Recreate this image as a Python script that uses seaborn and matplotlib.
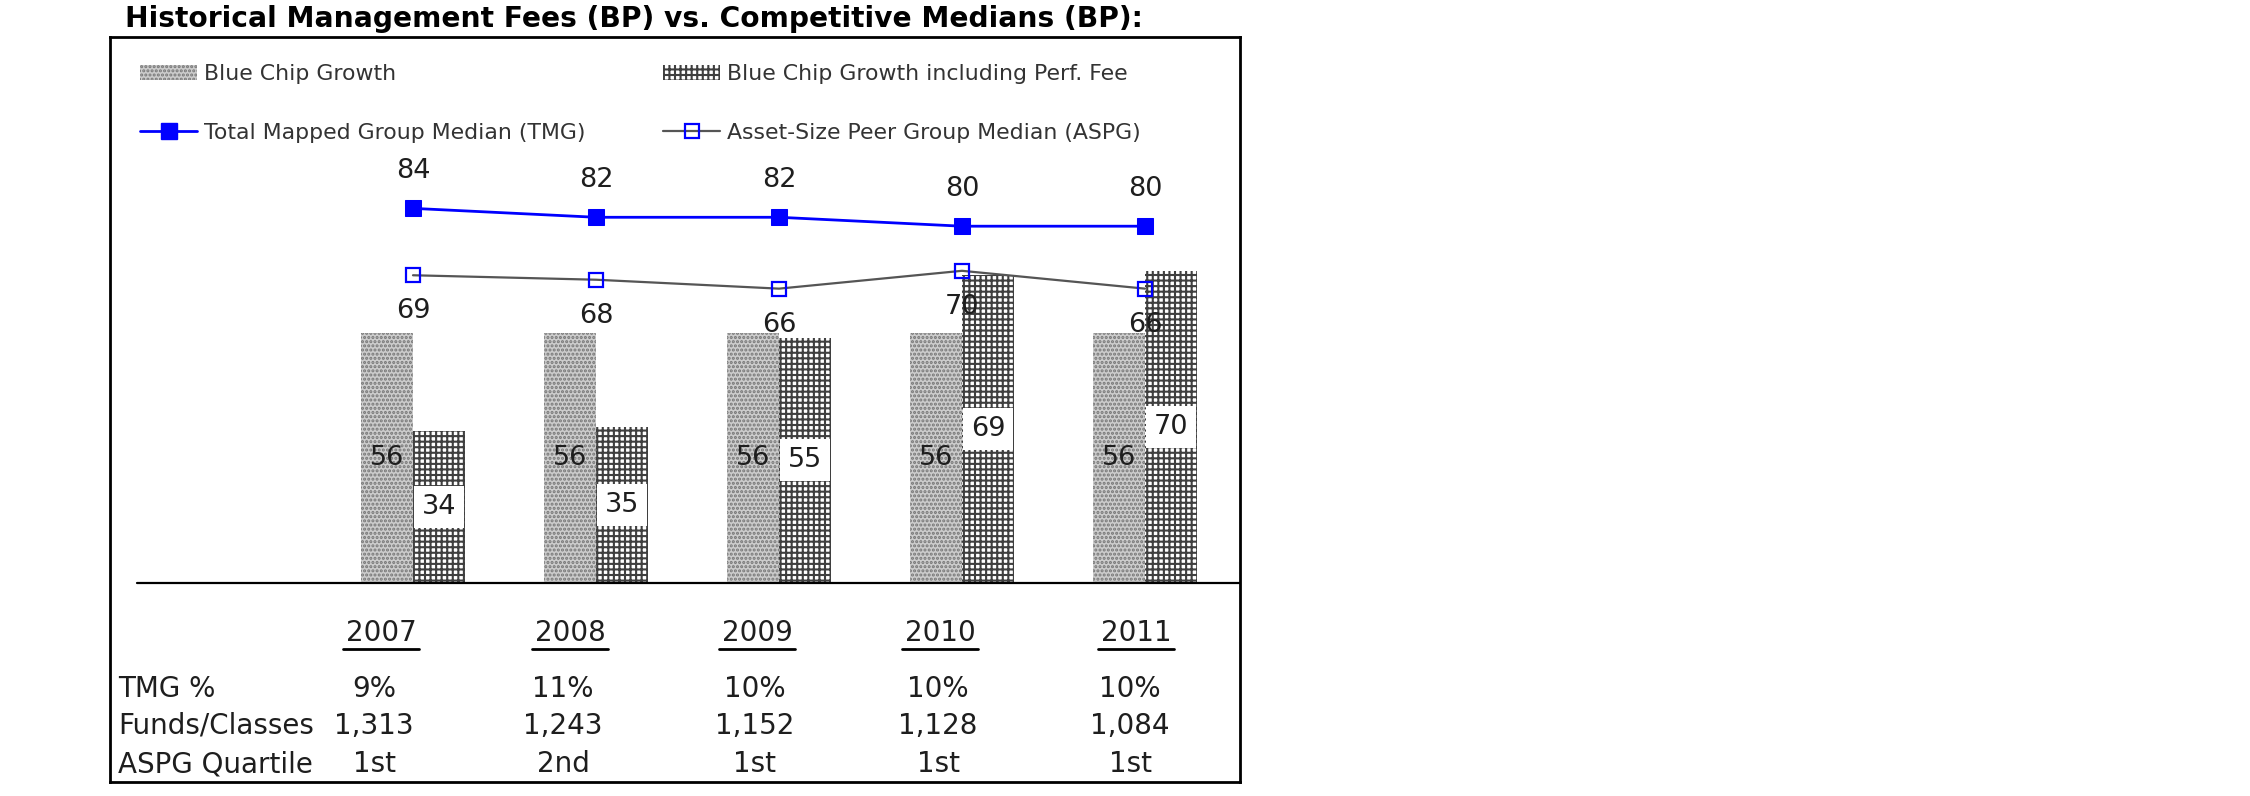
import matplotlib
matplotlib.use("Agg")
import matplotlib.pyplot as plt
import seaborn as sns
import pandas as pd
import numpy as np
from matplotlib.patches import Patch
from matplotlib.lines import Line2D

# ---------------- data ----------------
years = ["2007", "2008", "2009", "2010", "2011"]
bcg = [56, 56, 56, 56, 56]
bcg_perf = [34, 35, 55, 69, 70]
tmg = [84, 82, 82, 80, 80]
aspg = [69, 68, 66, 70, 66]
tmg_pct = ["9%", "11%", "10%", "10%", "10%"]
funds = ["1,313", "1,243", "1,152", "1,128", "1,084"]
quartile = ["1st", "2nd", "1st", "1st", "1st"]
bar_names = ["Blue Chip Growth", "Blue Chip Growth including Perf. Fee"]
line_names = ["Total Mapped Group Median (TMG)", "Asset-Size Peer Group Median (ASPG)"]
row_labels = ["TMG %", "Funds/Classes", "ASPG Quartile"]
title = "Historical Management Fees (BP) vs. Competitive Medians (BP):"

# ---------------- setup ----------------
W, H = 2250, 796
sns.set_theme(style="white")
plt.rcParams['font.family'] = ['DejaVu Sans']
plt.rcParams['hatch.linewidth'] = 1.5

fig = plt.figure(figsize=(W / 100, H / 100), dpi=100)
fig.patch.set_facecolor("white")


def fx(px):
    return px / W


def fy(py):
    return 1 - py / H


box_l, box_r, box_t, box_b = 110, 1240, 37, 782
ax = fig.add_axes([fx(box_l), fy(box_b), (box_r - box_l) / W, (box_b - box_t) / H])

BCG_FACE, BCG_HATCH = "#cccccc", "#767676"
PERF_HATCH = "#3f3f3f"
TXT = "#1e1e1e"

df = pd.DataFrame({
    "year": years * 2,
    "value": bcg + bcg_perf,
    "series": [bar_names[0]] * len(years) + [bar_names[1]] * len(years),
})
sns.barplot(data=df, x="year", y="value", hue="series", order=years,
            hue_order=bar_names, width=0.57, ax=ax, legend=False,
            palette=[BCG_FACE, "white"], saturation=1, linewidth=0)

for bar in ax.containers[0]:
    bar.set_hatch("....")
    bar.set_edgecolor(BCG_HATCH)
    bar.set_linewidth(0)
for bar in ax.containers[1]:
    bar.set_hatch("+++")
    bar.set_edgecolor(PERF_HATCH)
    bar.set_linewidth(0)

idx = np.arange(len(years))
sns.lineplot(x=idx, y=tmg, ax=ax, color="#0000ff", linewidth=2.0, marker="s",
             markersize=11, markeredgecolor="#0000ff", markerfacecolor="#0000ff")
sns.lineplot(x=idx, y=aspg, ax=ax, color="#555555", linewidth=1.6, marker="s",
             markersize=10.5, markeredgecolor="#0000ff", markerfacecolor="none",
             markeredgewidth=1.6)

# scales: group center px = 413 + 183*i ; 4.46 px per BP, zero at y=583
ax.set_xlim((box_l - 413) / 183, (box_r - 413) / 183)
ax.set_ylim(-(box_b - 583) / 4.46, (583 - box_t) / 4.46)
ax.axhline(0, xmin=(137 - box_l) / (box_r - box_l), xmax=1, color="black", lw=1.6, zorder=3)
ax.set_xticks([])
ax.set_yticks([])
ax.set_xlabel("")
ax.set_ylabel("")
for s in ax.spines.values():
    s.set_visible(True)
    s.set_color("black")
    s.set_linewidth(2.0)

# labels
half = 0.57 / 4
for i in idx:
    ax.text(i - half, bcg[i] / 2, str(bcg[i]), ha="center", va="center",
            fontsize=19.5, color=TXT, zorder=5)
    ax.text(i + half, bcg_perf[i] / 2, str(bcg_perf[i]), ha="center", va="center",
            fontsize=19.5, color=TXT, zorder=5,
            bbox=dict(boxstyle="square,pad=0.3", fc="white", ec="none"))
    ax.annotate(str(tmg[i]), (i, tmg[i]), xytext=(0, 27), textcoords="offset points",
                ha="center", va="center", fontsize=19.5, color=TXT)
    ax.annotate(str(aspg[i]), (i, aspg[i]), xytext=(0, -26), textcoords="offset points",
                ha="center", va="center", fontsize=19.5, color=TXT, zorder=6)

# legends
leg_fs = 15.8
h_bcg = Patch(facecolor=BCG_FACE, edgecolor=BCG_HATCH, hatch="....", linewidth=0)
h_perf = Patch(facecolor="white", edgecolor=PERF_HATCH, hatch="+++", linewidth=0)
h_tmg = Line2D([], [], color="#0000ff", lw=2.0, marker="s", markersize=11,
               markerfacecolor="#0000ff", markeredgecolor="#0000ff")
h_aspg = Line2D([], [], color="#555555", lw=1.6, marker="s", markersize=10.5,
                markerfacecolor="none", markeredgecolor="#0000ff", markeredgewidth=1.6)

common = dict(frameon=False, fontsize=leg_fs, handlelength=2.6, handletextpad=0.31,
              labelspacing=1.78, borderpad=0, borderaxespad=0, loc="upper left",
              bbox_transform=fig.transFigure, labelcolor="#333333")
leg1 = ax.legend([h_bcg, h_tmg], [bar_names[0], line_names[0]],
                 bbox_to_anchor=(fx(140), fy(64)), **common)
ax.add_artist(leg1)
leg2 = ax.legend([h_perf, h_aspg], [bar_names[1], line_names[1]],
                 bbox_to_anchor=(fx(663), fy(64)), **common)

# title
t = fig.text(fx(125), fy(27), title, fontsize=17.5, fontweight="bold",
             color="black", ha="left", va="baseline")
fig.canvas.draw()
w = t.get_window_extent().width
t.set_fontsize(17.5 * 1013 / w)

# table below the chart
year_x = [381, 570, 757, 940, 1136]
val_x = [374, 563, 755, 938, 1130]
for x, yr in zip(year_x, years):
    fig.text(fx(x), fy(633), yr, fontsize=20, color=TXT, ha="center", va="center")
    fig.add_artist(Line2D([fx(x - 38), fx(x + 38)], [fy(649), fy(649)],
                          transform=fig.transFigure, color="black", lw=2.0))
row_y = [689, 726, 764]
for ry, lab, vals in zip(row_y, row_labels, [tmg_pct, funds, quartile]):
    fig.text(fx(118), fy(ry), lab, fontsize=20, color=TXT, ha="left", va="center")
    for x, v in zip(val_x, vals):
        fig.text(fx(x), fy(ry), v, fontsize=20, color=TXT, ha="center", va="center")

fig.savefig("out.png", dpi=100, facecolor="white")
